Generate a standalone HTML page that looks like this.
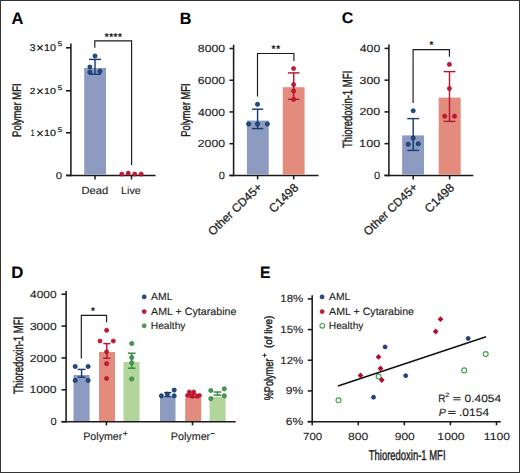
<!DOCTYPE html>
<html><head><meta charset="utf-8"><style>
html,body{margin:0;padding:0;background:#fff;}
body{width:520px;height:473px;overflow:hidden;}
svg{display:block;font-family:"Liberation Sans",sans-serif;text-rendering:geometricPrecision;}
</style></head><body>
<svg width="520" height="473" viewBox="0 0 520 473">
<rect x="0" y="0" width="520" height="473" fill="#fff"/>
<text x="11.39" y="23.78" font-size="16.76" textLength="11.91" lengthAdjust="spacingAndGlyphs" font-weight="bold" fill="#000" stroke="#000" stroke-width="0.1">A</text>
<text x="179.85" y="23.57" font-size="16.47" textLength="11.72" lengthAdjust="spacingAndGlyphs" font-weight="bold" fill="#000" stroke="#000" stroke-width="0.1">B</text>
<text x="341.71" y="23.32" font-size="15.38" textLength="11.58" lengthAdjust="spacingAndGlyphs" font-weight="bold" fill="#000" stroke="#000" stroke-width="0.1">C</text>
<text x="11.21" y="278.32" font-size="16.69" textLength="12.14" lengthAdjust="spacingAndGlyphs" font-weight="bold" fill="#000" stroke="#000" stroke-width="0.1">D</text>
<text x="259.89" y="278.32" font-size="16.69" textLength="10.48" lengthAdjust="spacingAndGlyphs" font-weight="bold" fill="#000" stroke="#000" stroke-width="0.1">E</text>
<line x1="70.90" y1="43.50" x2="70.90" y2="176.20" stroke="#1a1a1a" stroke-width="1.55"/>
<line x1="66.00" y1="47.80" x2="70.90" y2="47.80" stroke="#1a1a1a" stroke-width="1.55"/>
<line x1="66.00" y1="90.80" x2="70.90" y2="90.80" stroke="#1a1a1a" stroke-width="1.55"/>
<line x1="66.00" y1="132.80" x2="70.90" y2="132.80" stroke="#1a1a1a" stroke-width="1.55"/>
<line x1="66.00" y1="175.40" x2="70.90" y2="175.40" stroke="#1a1a1a" stroke-width="1.55"/>
<line x1="66.00" y1="175.40" x2="155.60" y2="175.40" stroke="#1a1a1a" stroke-width="1.55"/>
<line x1="95.00" y1="175.40" x2="95.00" y2="179.40" stroke="#1a1a1a" stroke-width="1.55"/>
<line x1="131.50" y1="175.40" x2="131.50" y2="179.40" stroke="#1a1a1a" stroke-width="1.55"/>
<rect x="84.20" y="68.00" width="21.80" height="106.70" fill="#8e9bc0"/>
<line x1="95.00" y1="59.40" x2="95.00" y2="74.20" stroke="#173d75" stroke-width="1.45"/>
<line x1="89.00" y1="59.40" x2="101.00" y2="59.40" stroke="#173d75" stroke-width="1.45"/>
<line x1="89.00" y1="74.20" x2="101.00" y2="74.20" stroke="#173d75" stroke-width="1.45"/>
<circle cx="95.00" cy="56.00" r="2.05" fill="#22508a" stroke="#0c2858" stroke-width="0.8"/>
<circle cx="89.90" cy="67.00" r="2.05" fill="#22508a" stroke="#0c2858" stroke-width="0.8"/>
<circle cx="89.90" cy="72.20" r="2.05" fill="#22508a" stroke="#0c2858" stroke-width="0.8"/>
<circle cx="99.90" cy="71.20" r="2.05" fill="#22508a" stroke="#0c2858" stroke-width="0.8"/>
<circle cx="121.80" cy="174.10" r="2.1" fill="#cc1434" stroke="#a00a24" stroke-width="0.6"/>
<circle cx="128.20" cy="173.20" r="2.1" fill="#cc1434" stroke="#a00a24" stroke-width="0.6"/>
<circle cx="134.70" cy="174.10" r="2.1" fill="#cc1434" stroke="#a00a24" stroke-width="0.6"/>
<circle cx="141.20" cy="174.10" r="2.1" fill="#cc1434" stroke="#a00a24" stroke-width="0.6"/>
<path d="M94.8,47.8 V40.8 H131.6 V165" fill="none" stroke="#1a1a1a" stroke-width="1.15"/>
<text x="104.79" y="39.61" font-size="9.80" font-weight="bold" fill="#1c1c1c" stroke="#1c1c1c" stroke-width="0.12">*</text>
<text x="109.19" y="39.61" font-size="9.80" font-weight="bold" fill="#1c1c1c" stroke="#1c1c1c" stroke-width="0.12">*</text>
<text x="113.59" y="39.61" font-size="9.80" font-weight="bold" fill="#1c1c1c" stroke="#1c1c1c" stroke-width="0.12">*</text>
<text x="117.99" y="39.61" font-size="9.80" font-weight="bold" fill="#1c1c1c" stroke="#1c1c1c" stroke-width="0.12">*</text>
<text x="29.66" y="50.82" font-size="9.86" textLength="5.74" lengthAdjust="spacingAndGlyphs" fill="#1c1c1c" stroke="#1c1c1c" stroke-width="0.22">3</text>
<line x1="37.40" y1="45.25" x2="42.70" y2="50.45" stroke="#1c1c1c" stroke-width="1.15"/>
<line x1="37.40" y1="50.45" x2="42.70" y2="45.25" stroke="#1c1c1c" stroke-width="1.15"/>
<text x="43.95" y="50.82" font-size="9.86" textLength="11.93" lengthAdjust="spacingAndGlyphs" fill="#1c1c1c" stroke="#1c1c1c" stroke-width="0.22">10</text>
<text x="57.73" y="46.48" font-size="6.58" textLength="4.45" lengthAdjust="spacingAndGlyphs" fill="#1c1c1c" stroke="#1c1c1c" stroke-width="0.2">5</text>
<text x="29.84" y="93.83" font-size="8.71" textLength="5.62" lengthAdjust="spacingAndGlyphs" fill="#1c1c1c" stroke="#1c1c1c" stroke-width="0.22">2</text>
<line x1="37.40" y1="88.65" x2="42.70" y2="93.85" stroke="#1c1c1c" stroke-width="1.15"/>
<line x1="37.40" y1="93.85" x2="42.70" y2="88.65" stroke="#1c1c1c" stroke-width="1.15"/>
<text x="43.95" y="93.83" font-size="8.71" textLength="11.93" lengthAdjust="spacingAndGlyphs" fill="#1c1c1c" stroke="#1c1c1c" stroke-width="0.22">10</text>
<text x="57.73" y="90.27" font-size="6.58" textLength="4.45" lengthAdjust="spacingAndGlyphs" fill="#1c1c1c" stroke="#1c1c1c" stroke-width="0.2">5</text>
<text x="30.65" y="136.23" font-size="9.13" textLength="3.73" lengthAdjust="spacingAndGlyphs" fill="#1c1c1c" stroke="#1c1c1c" stroke-width="0.22">1</text>
<line x1="37.40" y1="130.95" x2="42.70" y2="136.15" stroke="#1c1c1c" stroke-width="1.15"/>
<line x1="37.40" y1="136.15" x2="42.70" y2="130.95" stroke="#1c1c1c" stroke-width="1.15"/>
<text x="43.95" y="136.23" font-size="9.00" textLength="11.93" lengthAdjust="spacingAndGlyphs" fill="#1c1c1c" stroke="#1c1c1c" stroke-width="0.22">10</text>
<text x="57.73" y="132.47" font-size="6.58" textLength="4.45" lengthAdjust="spacingAndGlyphs" fill="#1c1c1c" stroke="#1c1c1c" stroke-width="0.2">5</text>
<text x="55.69" y="178.53" font-size="9.86" textLength="6.41" lengthAdjust="spacingAndGlyphs" fill="#1c1c1c" stroke="#1c1c1c" stroke-width="0.12">0</text>
<text x="81.52" y="194.33" font-size="10.45" textLength="26.84" lengthAdjust="spacingAndGlyphs" fill="#1c1c1c" stroke="#1c1c1c" stroke-width="0.12">Dead</text>
<text x="121.06" y="194.33" font-size="10.45" textLength="19.77" lengthAdjust="spacingAndGlyphs" fill="#1c1c1c" stroke="#1c1c1c" stroke-width="0.12">Live</text>
<text transform="translate(21.23,136.15) rotate(-90)" x="-0.78" y="0" font-size="12.38" textLength="53.55" lengthAdjust="spacingAndGlyphs" fill="#1c1c1c" stroke="#1c1c1c" stroke-width="0.42">Polymer MFI</text>
<line x1="233.60" y1="44.80" x2="233.60" y2="176.20" stroke="#1a1a1a" stroke-width="1.55"/>
<line x1="229.50" y1="175.40" x2="233.60" y2="175.40" stroke="#1a1a1a" stroke-width="1.55"/>
<line x1="229.50" y1="143.68" x2="233.60" y2="143.68" stroke="#1a1a1a" stroke-width="1.55"/>
<line x1="229.50" y1="111.95" x2="233.60" y2="111.95" stroke="#1a1a1a" stroke-width="1.55"/>
<line x1="229.50" y1="80.23" x2="233.60" y2="80.23" stroke="#1a1a1a" stroke-width="1.55"/>
<line x1="229.50" y1="48.50" x2="233.60" y2="48.50" stroke="#1a1a1a" stroke-width="1.55"/>
<line x1="229.50" y1="175.40" x2="318.50" y2="175.40" stroke="#1a1a1a" stroke-width="1.55"/>
<line x1="257.60" y1="175.40" x2="257.60" y2="179.40" stroke="#1a1a1a" stroke-width="1.55"/>
<line x1="293.70" y1="175.40" x2="293.70" y2="179.40" stroke="#1a1a1a" stroke-width="1.55"/>
<rect x="246.90" y="120.60" width="21.80" height="54.10" fill="#8e9bc0"/>
<rect x="282.80" y="87.20" width="21.80" height="87.50" fill="#e38c7e"/>
<line x1="257.60" y1="109.20" x2="257.60" y2="128.60" stroke="#173d75" stroke-width="1.45"/>
<line x1="252.00" y1="109.20" x2="263.20" y2="109.20" stroke="#173d75" stroke-width="1.45"/>
<line x1="252.00" y1="128.60" x2="263.20" y2="128.60" stroke="#173d75" stroke-width="1.45"/>
<line x1="293.70" y1="72.90" x2="293.70" y2="99.40" stroke="#b31a34" stroke-width="1.45"/>
<line x1="287.90" y1="72.90" x2="299.50" y2="72.90" stroke="#b31a34" stroke-width="1.45"/>
<line x1="287.90" y1="99.40" x2="299.50" y2="99.40" stroke="#b31a34" stroke-width="1.45"/>
<circle cx="257.50" cy="104.30" r="2.05" fill="#22508a" stroke="#0c2858" stroke-width="0.8"/>
<circle cx="248.60" cy="124.00" r="2.05" fill="#22508a" stroke="#0c2858" stroke-width="0.8"/>
<circle cx="257.50" cy="124.00" r="2.05" fill="#22508a" stroke="#0c2858" stroke-width="0.8"/>
<circle cx="267.40" cy="124.00" r="2.05" fill="#22508a" stroke="#0c2858" stroke-width="0.8"/>
<circle cx="293.60" cy="68.50" r="2.1" fill="#cc1434" stroke="#a00a24" stroke-width="0.6"/>
<circle cx="293.60" cy="84.60" r="2.1" fill="#cc1434" stroke="#a00a24" stroke-width="0.6"/>
<circle cx="293.60" cy="91.00" r="2.1" fill="#cc1434" stroke="#a00a24" stroke-width="0.6"/>
<circle cx="293.60" cy="99.40" r="2.1" fill="#cc1434" stroke="#a00a24" stroke-width="0.6"/>
<path d="M257.5,96.6 V53.5 H293.9 V61.1" fill="none" stroke="#1a1a1a" stroke-width="1.15"/>
<text x="271.59" y="52.11" font-size="9.80" font-weight="bold" fill="#1c1c1c" stroke="#1c1c1c" stroke-width="0.12">*</text>
<text x="276.19" y="52.11" font-size="9.80" font-weight="bold" fill="#1c1c1c" stroke="#1c1c1c" stroke-width="0.12">*</text>
<text x="197.74" y="147.25" font-size="10.43" textLength="27.30" lengthAdjust="spacingAndGlyphs" fill="#1c1c1c" stroke="#1c1c1c" stroke-width="0.12">2000</text>
<text x="198.08" y="115.53" font-size="10.43" textLength="26.95" lengthAdjust="spacingAndGlyphs" fill="#1c1c1c" stroke="#1c1c1c" stroke-width="0.12">4000</text>
<text x="197.74" y="83.80" font-size="10.43" textLength="27.30" lengthAdjust="spacingAndGlyphs" fill="#1c1c1c" stroke="#1c1c1c" stroke-width="0.12">6000</text>
<text x="197.83" y="52.07" font-size="10.43" textLength="27.21" lengthAdjust="spacingAndGlyphs" fill="#1c1c1c" stroke="#1c1c1c" stroke-width="0.12">8000</text>
<text x="218.81" y="178.98" font-size="10.43" textLength="6.17" lengthAdjust="spacingAndGlyphs" fill="#1c1c1c" stroke="#1c1c1c" stroke-width="0.12">0</text>
<text transform="translate(190.12,136.05) rotate(-90)" x="-0.78" y="0" font-size="12.79" textLength="53.45" lengthAdjust="spacingAndGlyphs" fill="#1c1c1c" stroke="#1c1c1c" stroke-width="0.42">Polymer MFI</text>
<text transform="translate(212.71,236.16) rotate(-43.94)" x="0" y="0" font-size="11.72" fill="#1c1c1c" stroke="#1c1c1c" stroke-width="0.25">Other CD45+</text>
<text transform="translate(273.76,213.49) rotate(-44.56)" x="0" y="0" font-size="12.13" fill="#1c1c1c" stroke="#1c1c1c" stroke-width="0.25">C1498</text>
<line x1="388.90" y1="44.40" x2="388.90" y2="176.20" stroke="#1a1a1a" stroke-width="1.55"/>
<line x1="384.50" y1="175.40" x2="388.90" y2="175.40" stroke="#1a1a1a" stroke-width="1.55"/>
<line x1="384.50" y1="143.65" x2="388.90" y2="143.65" stroke="#1a1a1a" stroke-width="1.55"/>
<line x1="384.50" y1="111.90" x2="388.90" y2="111.90" stroke="#1a1a1a" stroke-width="1.55"/>
<line x1="384.50" y1="80.15" x2="388.90" y2="80.15" stroke="#1a1a1a" stroke-width="1.55"/>
<line x1="384.50" y1="48.40" x2="388.90" y2="48.40" stroke="#1a1a1a" stroke-width="1.55"/>
<line x1="384.50" y1="175.40" x2="473.30" y2="175.40" stroke="#1a1a1a" stroke-width="1.55"/>
<line x1="413.20" y1="175.40" x2="413.20" y2="179.40" stroke="#1a1a1a" stroke-width="1.55"/>
<line x1="449.60" y1="175.40" x2="449.60" y2="179.40" stroke="#1a1a1a" stroke-width="1.55"/>
<rect x="402.10" y="135.40" width="21.90" height="39.30" fill="#8e9bc0"/>
<rect x="438.70" y="97.60" width="22.00" height="77.10" fill="#e38c7e"/>
<line x1="413.20" y1="118.60" x2="413.20" y2="150.40" stroke="#173d75" stroke-width="1.45"/>
<line x1="407.30" y1="118.60" x2="419.10" y2="118.60" stroke="#173d75" stroke-width="1.45"/>
<line x1="407.30" y1="150.40" x2="419.10" y2="150.40" stroke="#173d75" stroke-width="1.45"/>
<line x1="449.50" y1="71.60" x2="449.50" y2="121.40" stroke="#b31a34" stroke-width="1.45"/>
<line x1="443.60" y1="71.60" x2="455.40" y2="71.60" stroke="#b31a34" stroke-width="1.45"/>
<line x1="443.60" y1="121.40" x2="455.40" y2="121.40" stroke="#b31a34" stroke-width="1.45"/>
<circle cx="413.20" cy="110.80" r="2.05" fill="#22508a" stroke="#0c2858" stroke-width="0.8"/>
<circle cx="413.20" cy="138.00" r="2.05" fill="#22508a" stroke="#0c2858" stroke-width="0.8"/>
<circle cx="408.20" cy="144.30" r="2.05" fill="#22508a" stroke="#0c2858" stroke-width="0.8"/>
<circle cx="418.30" cy="143.80" r="2.05" fill="#22508a" stroke="#0c2858" stroke-width="0.8"/>
<circle cx="449.40" cy="64.40" r="2.1" fill="#cc1434" stroke="#a00a24" stroke-width="0.6"/>
<circle cx="449.40" cy="88.50" r="2.1" fill="#cc1434" stroke="#a00a24" stroke-width="0.6"/>
<circle cx="444.70" cy="116.20" r="2.1" fill="#cc1434" stroke="#a00a24" stroke-width="0.6"/>
<circle cx="454.50" cy="116.20" r="2.1" fill="#cc1434" stroke="#a00a24" stroke-width="0.6"/>
<path d="M413.1,102.9 V49.6 H449.4 V56.8" fill="none" stroke="#1a1a1a" stroke-width="1.15"/>
<text x="429.49" y="48.21" font-size="9.80" font-weight="bold" fill="#1c1c1c" stroke="#1c1c1c" stroke-width="0.12">*</text>
<text x="359.10" y="147.23" font-size="10.43" textLength="21.14" lengthAdjust="spacingAndGlyphs" fill="#1c1c1c" stroke="#1c1c1c" stroke-width="0.12">100</text>
<text x="359.43" y="115.48" font-size="10.43" textLength="20.80" lengthAdjust="spacingAndGlyphs" fill="#1c1c1c" stroke="#1c1c1c" stroke-width="0.12">200</text>
<text x="359.59" y="83.73" font-size="10.43" textLength="20.64" lengthAdjust="spacingAndGlyphs" fill="#1c1c1c" stroke="#1c1c1c" stroke-width="0.12">300</text>
<text x="359.77" y="51.98" font-size="10.43" textLength="20.45" lengthAdjust="spacingAndGlyphs" fill="#1c1c1c" stroke="#1c1c1c" stroke-width="0.12">400</text>
<text x="374.01" y="178.98" font-size="10.43" textLength="6.17" lengthAdjust="spacingAndGlyphs" fill="#1c1c1c" stroke="#1c1c1c" stroke-width="0.12">0</text>
<text transform="translate(352.12,147.75) rotate(-90)" x="-0.21" y="0" font-size="13.34" textLength="77.11" lengthAdjust="spacingAndGlyphs" fill="#1c1c1c" stroke="#1c1c1c" stroke-width="0.42">Thioredoxin-1 MFI</text>
<text transform="translate(368.31,236.16) rotate(-43.94)" x="0" y="0" font-size="11.72" fill="#1c1c1c" stroke="#1c1c1c" stroke-width="0.25">Other CD45+</text>
<text transform="translate(429.56,213.49) rotate(-44.56)" x="0" y="0" font-size="12.13" fill="#1c1c1c" stroke="#1c1c1c" stroke-width="0.25">C1498</text>
<line x1="66.10" y1="291.00" x2="66.10" y2="422.30" stroke="#1a1a1a" stroke-width="1.55"/>
<line x1="61.50" y1="421.70" x2="66.10" y2="421.70" stroke="#1a1a1a" stroke-width="1.55"/>
<line x1="61.50" y1="389.82" x2="66.10" y2="389.82" stroke="#1a1a1a" stroke-width="1.55"/>
<line x1="61.50" y1="357.95" x2="66.10" y2="357.95" stroke="#1a1a1a" stroke-width="1.55"/>
<line x1="61.50" y1="326.07" x2="66.10" y2="326.07" stroke="#1a1a1a" stroke-width="1.55"/>
<line x1="61.50" y1="294.20" x2="66.10" y2="294.20" stroke="#1a1a1a" stroke-width="1.55"/>
<line x1="61.50" y1="421.70" x2="235.70" y2="421.70" stroke="#1a1a1a" stroke-width="1.55"/>
<line x1="106.40" y1="421.70" x2="106.40" y2="425.40" stroke="#1a1a1a" stroke-width="1.55"/>
<line x1="192.50" y1="421.70" x2="192.50" y2="425.40" stroke="#1a1a1a" stroke-width="1.55"/>
<rect x="73.50" y="375.00" width="16.10" height="46.00" fill="#8e9bc0"/>
<rect x="99.00" y="352.00" width="16.00" height="69.00" fill="#e38c7e"/>
<rect x="123.50" y="362.00" width="16.00" height="59.00" fill="#b1d59b"/>
<rect x="160.00" y="397.00" width="15.50" height="24.00" fill="#8e9bc0"/>
<rect x="185.20" y="397.70" width="16.00" height="23.30" fill="#e38c7e"/>
<rect x="209.60" y="397.00" width="16.00" height="24.00" fill="#b1d59b"/>
<line x1="81.60" y1="369.40" x2="81.60" y2="377.20" stroke="#173d75" stroke-width="1.45"/>
<line x1="77.60" y1="369.40" x2="85.60" y2="369.40" stroke="#173d75" stroke-width="1.45"/>
<line x1="77.60" y1="377.20" x2="85.60" y2="377.20" stroke="#173d75" stroke-width="1.45"/>
<line x1="106.80" y1="343.60" x2="106.80" y2="358.30" stroke="#b31a34" stroke-width="1.45"/>
<line x1="103.20" y1="343.60" x2="110.40" y2="343.60" stroke="#b31a34" stroke-width="1.45"/>
<line x1="103.20" y1="358.30" x2="110.40" y2="358.30" stroke="#b31a34" stroke-width="1.45"/>
<line x1="131.70" y1="353.20" x2="131.70" y2="368.20" stroke="#338a3d" stroke-width="1.45"/>
<line x1="127.90" y1="353.20" x2="135.50" y2="353.20" stroke="#338a3d" stroke-width="1.45"/>
<line x1="127.90" y1="368.20" x2="135.50" y2="368.20" stroke="#338a3d" stroke-width="1.45"/>
<line x1="167.80" y1="392.60" x2="167.80" y2="396.50" stroke="#173d75" stroke-width="1.45"/>
<line x1="164.20" y1="392.60" x2="171.40" y2="392.60" stroke="#173d75" stroke-width="1.45"/>
<line x1="164.20" y1="396.50" x2="171.40" y2="396.50" stroke="#173d75" stroke-width="1.45"/>
<line x1="192.90" y1="394.20" x2="192.90" y2="397.40" stroke="#b31a34" stroke-width="1.45"/>
<line x1="189.30" y1="394.20" x2="196.50" y2="394.20" stroke="#b31a34" stroke-width="1.45"/>
<line x1="189.30" y1="397.40" x2="196.50" y2="397.40" stroke="#b31a34" stroke-width="1.45"/>
<line x1="217.50" y1="392.00" x2="217.50" y2="395.10" stroke="#338a3d" stroke-width="1.45"/>
<line x1="213.60" y1="392.00" x2="221.40" y2="392.00" stroke="#338a3d" stroke-width="1.45"/>
<line x1="213.60" y1="395.10" x2="221.40" y2="395.10" stroke="#338a3d" stroke-width="1.45"/>
<circle cx="75.20" cy="366.50" r="2.05" fill="#22508a" stroke="#0c2858" stroke-width="0.8"/>
<circle cx="88.10" cy="366.50" r="2.05" fill="#22508a" stroke="#0c2858" stroke-width="0.8"/>
<circle cx="75.20" cy="380.40" r="2.05" fill="#22508a" stroke="#0c2858" stroke-width="0.8"/>
<circle cx="88.10" cy="380.40" r="2.05" fill="#22508a" stroke="#0c2858" stroke-width="0.8"/>
<circle cx="106.60" cy="330.30" r="2.1" fill="#cc1434" stroke="#a00a24" stroke-width="0.6"/>
<circle cx="100.00" cy="341.00" r="2.1" fill="#cc1434" stroke="#a00a24" stroke-width="0.6"/>
<circle cx="113.30" cy="341.00" r="2.1" fill="#cc1434" stroke="#a00a24" stroke-width="0.6"/>
<circle cx="106.60" cy="351.80" r="2.1" fill="#cc1434" stroke="#a00a24" stroke-width="0.6"/>
<circle cx="106.60" cy="363.70" r="2.1" fill="#cc1434" stroke="#a00a24" stroke-width="0.6"/>
<circle cx="106.60" cy="378.50" r="2.1" fill="#cc1434" stroke="#a00a24" stroke-width="0.6"/>
<circle cx="131.70" cy="343.50" r="2.05" fill="#45a052" stroke="#2a7535" stroke-width="0.8"/>
<circle cx="131.70" cy="357.50" r="2.05" fill="#45a052" stroke="#2a7535" stroke-width="0.8"/>
<circle cx="131.70" cy="362.90" r="2.05" fill="#45a052" stroke="#2a7535" stroke-width="0.8"/>
<circle cx="131.70" cy="379.00" r="2.05" fill="#45a052" stroke="#2a7535" stroke-width="0.8"/>
<circle cx="161.40" cy="395.80" r="2.05" fill="#22508a" stroke="#0c2858" stroke-width="0.8"/>
<circle cx="167.40" cy="394.10" r="2.05" fill="#22508a" stroke="#0c2858" stroke-width="0.8"/>
<circle cx="174.20" cy="390.10" r="2.05" fill="#22508a" stroke="#0c2858" stroke-width="0.8"/>
<circle cx="174.20" cy="395.80" r="2.05" fill="#22508a" stroke="#0c2858" stroke-width="0.8"/>
<circle cx="187.60" cy="395.50" r="2.1" fill="#cc1434" stroke="#a00a24" stroke-width="0.6"/>
<circle cx="189.40" cy="392.00" r="2.1" fill="#cc1434" stroke="#a00a24" stroke-width="0.6"/>
<circle cx="193.70" cy="392.00" r="2.1" fill="#cc1434" stroke="#a00a24" stroke-width="0.6"/>
<circle cx="192.30" cy="396.20" r="2.1" fill="#cc1434" stroke="#a00a24" stroke-width="0.6"/>
<circle cx="197.30" cy="396.20" r="2.1" fill="#cc1434" stroke="#a00a24" stroke-width="0.6"/>
<circle cx="199.40" cy="395.50" r="2.1" fill="#cc1434" stroke="#a00a24" stroke-width="0.6"/>
<circle cx="210.80" cy="390.50" r="2.05" fill="#45a052" stroke="#2a7535" stroke-width="0.8"/>
<circle cx="224.30" cy="388.80" r="2.05" fill="#45a052" stroke="#2a7535" stroke-width="0.8"/>
<circle cx="210.80" cy="398.60" r="2.05" fill="#45a052" stroke="#2a7535" stroke-width="0.8"/>
<circle cx="224.30" cy="395.80" r="2.05" fill="#45a052" stroke="#2a7535" stroke-width="0.8"/>
<path d="M81.3,358.5 V315.3 H106.6 V322.3" fill="none" stroke="#1a1a1a" stroke-width="1.15"/>
<text x="91.09" y="313.81" font-size="9.80" font-weight="bold" fill="#1c1c1c" stroke="#1c1c1c" stroke-width="0.12">*</text>
<text x="29.43" y="393.40" font-size="10.43" textLength="27.20" lengthAdjust="spacingAndGlyphs" fill="#1c1c1c" stroke="#1c1c1c" stroke-width="0.12">1000</text>
<text x="29.75" y="361.52" font-size="10.43" textLength="26.88" lengthAdjust="spacingAndGlyphs" fill="#1c1c1c" stroke="#1c1c1c" stroke-width="0.12">2000</text>
<text x="29.90" y="329.65" font-size="10.43" textLength="26.73" lengthAdjust="spacingAndGlyphs" fill="#1c1c1c" stroke="#1c1c1c" stroke-width="0.12">3000</text>
<text x="30.08" y="297.77" font-size="10.43" textLength="26.54" lengthAdjust="spacingAndGlyphs" fill="#1c1c1c" stroke="#1c1c1c" stroke-width="0.12">4000</text>
<text x="50.41" y="425.27" font-size="10.43" textLength="6.17" lengthAdjust="spacingAndGlyphs" fill="#1c1c1c" stroke="#1c1c1c" stroke-width="0.12">0</text>
<text transform="translate(22.53,393.75) rotate(-90)" x="-0.21" y="0" font-size="13.62" textLength="77.11" lengthAdjust="spacingAndGlyphs" fill="#1c1c1c" stroke="#1c1c1c" stroke-width="0.42">Thioredoxin-1 MFI</text>
<circle cx="144.20" cy="296.90" r="2.1" fill="#22508a" stroke="#0c2858" stroke-width="0.5"/>
<circle cx="144.20" cy="311.60" r="2.1" fill="#cc1434" stroke="#a00a24" stroke-width="0.5"/>
<circle cx="144.20" cy="325.80" r="2.1" fill="#45a052" stroke="#2a7535" stroke-width="0.5"/>
<text x="151.12" y="299.73" font-size="10.29" textLength="21.38" lengthAdjust="spacingAndGlyphs" fill="#1c1c1c" stroke="#1c1c1c" stroke-width="0.12">AML</text>
<text x="151.12" y="314.73" font-size="10.58" textLength="85.31" lengthAdjust="spacingAndGlyphs" fill="#1c1c1c" stroke="#1c1c1c" stroke-width="0.12">AML + Cytarabine</text>
<text x="150.81" y="328.82" font-size="10.15" textLength="34.68" lengthAdjust="spacingAndGlyphs" fill="#1c1c1c" stroke="#1c1c1c" stroke-width="0.12">Healthy</text>
<text x="83.27" y="440.12" font-size="10.87" textLength="39.04" lengthAdjust="spacingAndGlyphs" fill="#1c1c1c" stroke="#1c1c1c" stroke-width="0.12">Polymer</text>
<line x1="123.10" y1="433.50" x2="127.50" y2="433.50" stroke="#1c1c1c" stroke-width="0.8"/>
<line x1="125.30" y1="431.40" x2="125.30" y2="435.60" stroke="#1c1c1c" stroke-width="0.8"/>
<text x="170.76" y="440.12" font-size="10.87" textLength="39.45" lengthAdjust="spacingAndGlyphs" fill="#1c1c1c" stroke="#1c1c1c" stroke-width="0.12">Polymer</text>
<line x1="210.80" y1="433.50" x2="214.50" y2="433.50" stroke="#1c1c1c" stroke-width="0.95"/>
<line x1="312.20" y1="295.20" x2="312.20" y2="422.30" stroke="#1a1a1a" stroke-width="1.55"/>
<line x1="307.80" y1="421.60" x2="312.20" y2="421.60" stroke="#1a1a1a" stroke-width="1.55"/>
<line x1="307.80" y1="390.93" x2="312.20" y2="390.93" stroke="#1a1a1a" stroke-width="1.55"/>
<line x1="307.80" y1="360.25" x2="312.20" y2="360.25" stroke="#1a1a1a" stroke-width="1.55"/>
<line x1="307.80" y1="329.57" x2="312.20" y2="329.57" stroke="#1a1a1a" stroke-width="1.55"/>
<line x1="307.80" y1="298.90" x2="312.20" y2="298.90" stroke="#1a1a1a" stroke-width="1.55"/>
<line x1="307.80" y1="421.70" x2="500.80" y2="421.70" stroke="#1a1a1a" stroke-width="1.55"/>
<line x1="312.20" y1="421.70" x2="312.20" y2="425.30" stroke="#1a1a1a" stroke-width="1.55"/>
<line x1="358.27" y1="421.70" x2="358.27" y2="425.30" stroke="#1a1a1a" stroke-width="1.55"/>
<line x1="404.35" y1="421.70" x2="404.35" y2="425.30" stroke="#1a1a1a" stroke-width="1.55"/>
<line x1="450.42" y1="421.70" x2="450.42" y2="425.30" stroke="#1a1a1a" stroke-width="1.55"/>
<line x1="496.50" y1="421.70" x2="496.50" y2="425.30" stroke="#1a1a1a" stroke-width="1.55"/>
<circle cx="338.50" cy="400.30" r="2.45" fill="#fff" stroke="#45a052" stroke-width="1.15"/>
<circle cx="378.60" cy="376.50" r="2.45" fill="#fff" stroke="#45a052" stroke-width="1.15"/>
<circle cx="485.70" cy="354.00" r="2.45" fill="#fff" stroke="#45a052" stroke-width="1.15"/>
<circle cx="464.20" cy="370.40" r="2.45" fill="#fff" stroke="#45a052" stroke-width="1.15"/>
<circle cx="385.10" cy="346.90" r="2.0" fill="#1e4884" stroke="#0c2858" stroke-width="0.7"/>
<circle cx="405.70" cy="375.70" r="2.0" fill="#1e4884" stroke="#0c2858" stroke-width="0.7"/>
<circle cx="373.50" cy="397.20" r="2.0" fill="#1e4884" stroke="#0c2858" stroke-width="0.7"/>
<circle cx="468.20" cy="338.40" r="2.0" fill="#1e4884" stroke="#0c2858" stroke-width="0.7"/>
<line x1="338.00" y1="385.90" x2="486.10" y2="336.70" stroke="#111" stroke-width="1.6"/>
<path d="M378.50,354.00 L381.40,356.90 L378.50,359.80 L375.60,356.90Z" fill="#b30d2b"/>
<path d="M380.50,365.60 L383.40,368.50 L380.50,371.40 L377.60,368.50Z" fill="#b30d2b"/>
<path d="M360.50,372.50 L363.40,375.40 L360.50,378.30 L357.60,375.40Z" fill="#b30d2b"/>
<path d="M381.80,377.10 L384.70,380.00 L381.80,382.90 L378.90,380.00Z" fill="#b30d2b"/>
<path d="M440.50,316.30 L443.40,319.20 L440.50,322.10 L437.60,319.20Z" fill="#b30d2b"/>
<path d="M435.70,328.60 L438.60,331.50 L435.70,334.40 L432.80,331.50Z" fill="#b30d2b"/>
<circle cx="322.10" cy="296.90" r="2.1" fill="#22508a" stroke="#0c2858" stroke-width="0.5"/>
<circle cx="322.10" cy="311.60" r="2.1" fill="#cc1434" stroke="#a00a24" stroke-width="0.5"/>
<circle cx="322.30" cy="325.80" r="2.35" fill="#fff" stroke="#45a052" stroke-width="1.1"/>
<text x="329.12" y="299.73" font-size="10.29" textLength="21.17" lengthAdjust="spacingAndGlyphs" fill="#1c1c1c" stroke="#1c1c1c" stroke-width="0.12">AML</text>
<text x="329.12" y="314.73" font-size="10.58" textLength="84.90" lengthAdjust="spacingAndGlyphs" fill="#1c1c1c" stroke="#1c1c1c" stroke-width="0.12">AML + Cytarabine</text>
<text x="328.81" y="328.82" font-size="10.15" textLength="34.68" lengthAdjust="spacingAndGlyphs" fill="#1c1c1c" stroke="#1c1c1c" stroke-width="0.12">Healthy</text>
<text x="280.29" y="302.38" font-size="10.43" textLength="22.87" lengthAdjust="spacingAndGlyphs" fill="#1c1c1c" stroke="#1c1c1c" stroke-width="0.12">18%</text>
<text x="280.29" y="333.05" font-size="10.47" textLength="22.87" lengthAdjust="spacingAndGlyphs" fill="#1c1c1c" stroke="#1c1c1c" stroke-width="0.12">15%</text>
<text x="280.29" y="363.73" font-size="10.43" textLength="22.87" lengthAdjust="spacingAndGlyphs" fill="#1c1c1c" stroke="#1c1c1c" stroke-width="0.12">12%</text>
<text x="285.88" y="394.40" font-size="10.43" textLength="17.32" lengthAdjust="spacingAndGlyphs" fill="#1c1c1c" stroke="#1c1c1c" stroke-width="0.12">9%</text>
<text x="285.85" y="425.08" font-size="10.43" textLength="17.35" lengthAdjust="spacingAndGlyphs" fill="#1c1c1c" stroke="#1c1c1c" stroke-width="0.12">6%</text>
<text x="303.05" y="440.32" font-size="10.29" textLength="19.14" lengthAdjust="spacingAndGlyphs" fill="#1c1c1c" stroke="#1c1c1c" stroke-width="0.12">700</text>
<text x="347.93" y="440.32" font-size="10.29" textLength="20.39" lengthAdjust="spacingAndGlyphs" fill="#1c1c1c" stroke="#1c1c1c" stroke-width="0.12">800</text>
<text x="394.78" y="440.32" font-size="10.29" textLength="20.03" lengthAdjust="spacingAndGlyphs" fill="#1c1c1c" stroke="#1c1c1c" stroke-width="0.12">900</text>
<text x="437.33" y="440.32" font-size="10.29" textLength="27.31" lengthAdjust="spacingAndGlyphs" fill="#1c1c1c" stroke="#1c1c1c" stroke-width="0.12">1000</text>
<text x="483.84" y="440.32" font-size="10.29" textLength="26.07" lengthAdjust="spacingAndGlyphs" fill="#1c1c1c" stroke="#1c1c1c" stroke-width="0.12">1100</text>
<text x="368.74" y="459.53" font-size="14.07" textLength="76.80" lengthAdjust="spacingAndGlyphs" fill="#1c1c1c" stroke="#1c1c1c" stroke-width="0.42">Thioredoxin-1 MFI</text>
<text transform="translate(272.53,399.95) rotate(-90)" x="-0.32" y="0" font-size="12.47" textLength="41.57" lengthAdjust="spacingAndGlyphs" fill="#1c1c1c" stroke="#1c1c1c" stroke-width="0.42">%Polymer</text>
<line x1="264.60" y1="353.30" x2="264.60" y2="357.30" stroke="#1c1c1c" stroke-width="0.95"/>
<line x1="262.60" y1="355.30" x2="266.60" y2="355.30" stroke="#1c1c1c" stroke-width="0.95"/>
<text transform="translate(271.62,347.35) rotate(-90)" x="-0.61" y="0" font-size="10.59" textLength="32.13" lengthAdjust="spacingAndGlyphs" fill="#1c1c1c" stroke="#1c1c1c" stroke-width="0.42">(of live)</text>
<text x="438.13" y="401.73" font-size="10.73" textLength="7.19" lengthAdjust="spacingAndGlyphs" fill="#1c1c1c" stroke="#1c1c1c" stroke-width="0.12">R</text>
<text x="445.38" y="397.18" font-size="6.20" textLength="4.16" lengthAdjust="spacingAndGlyphs" fill="#1c1c1c" stroke="#1c1c1c" stroke-width="0.12">2</text>
<line x1="453.30" y1="397.60" x2="460.60" y2="397.60" stroke="#1c1c1c" stroke-width="0.95"/>
<line x1="453.30" y1="399.80" x2="460.60" y2="399.80" stroke="#1c1c1c" stroke-width="0.95"/>
<text x="464.57" y="401.82" font-size="10.57" textLength="36.52" lengthAdjust="spacingAndGlyphs" fill="#1c1c1c" stroke="#1c1c1c" stroke-width="0.12">0.4054</text>
<text x="438.63" y="415.62" font-size="10.58" textLength="7.09" lengthAdjust="spacingAndGlyphs" font-style="italic" fill="#1c1c1c" stroke="#1c1c1c" stroke-width="0.12">P</text>
<line x1="448.20" y1="411.40" x2="455.60" y2="411.40" stroke="#1c1c1c" stroke-width="0.95"/>
<line x1="448.20" y1="413.50" x2="455.60" y2="413.50" stroke="#1c1c1c" stroke-width="0.95"/>
<text x="459.04" y="415.62" font-size="10.86" textLength="30.04" lengthAdjust="spacingAndGlyphs" fill="#1c1c1c" stroke="#1c1c1c" stroke-width="0.12">.0154</text>
<rect x="0.5" y="0.5" width="519" height="472" fill="none" stroke="#333" stroke-width="1"/>
</svg>
</body></html>
